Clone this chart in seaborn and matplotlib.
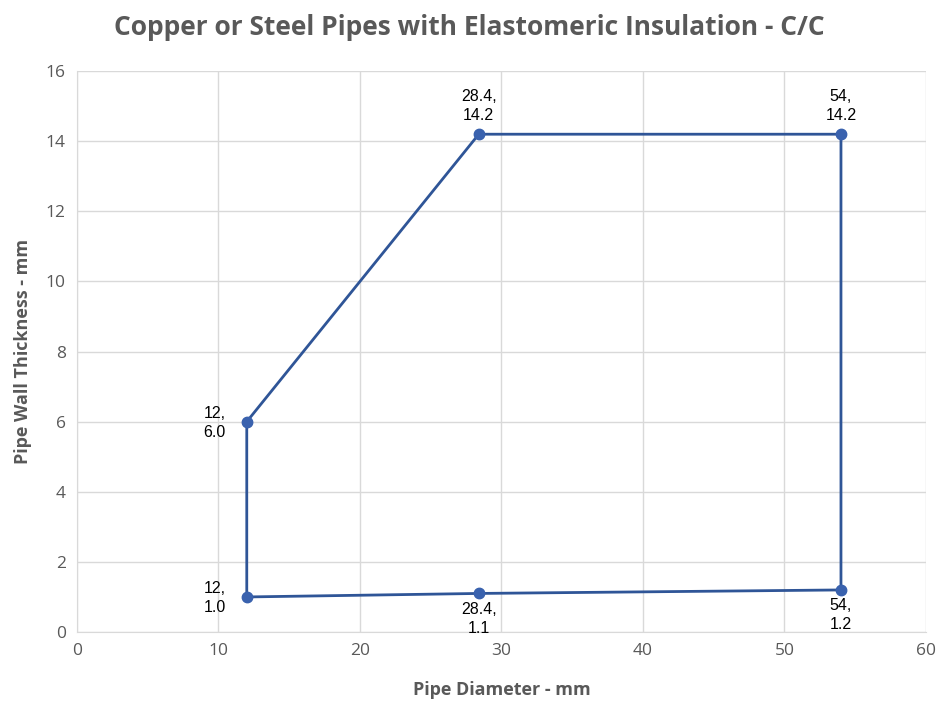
import matplotlib
matplotlib.use("Agg")
import matplotlib.pyplot as plt
import seaborn as sns
import pandas as pd

# Boundary points of the C/C region (diameter, wall thickness)
diameter = [12, 28.4, 54, 54, 28.4, 12, 12]
thickness = [6.0, 14.2, 14.2, 1.2, 1.1, 1.0, 6.0]
point_labels = ["12,\n6.0", "28.4,\n14.2", "54,\n14.2", "54,\n1.2", "28.4,\n1.1", "12,\n1.0"]
label_side = ["left", "above", "above", "below", "below", "left"]

df = pd.DataFrame({"Pipe Diameter - mm": diameter, "Pipe Wall Thickness - mm": thickness})

sns.set_style("white")
plt.rcParams["font.family"] = ["Open Sans", "DejaVu Sans"]

grey = "#595959"
line_col = "#2F5597"
lab_font = ["Liberation Sans", "DejaVu Sans"]

fig = plt.figure(figsize=(9.39, 7.02), dpi=100)
ax = fig.add_axes([0.082, 0.0997, 0.904, 0.799])

sns.lineplot(data=df, x="Pipe Diameter - mm", y="Pipe Wall Thickness - mm",
             sort=False, estimator=None, color=line_col, linewidth=2,
             marker="o", markersize=7.5, markeredgewidth=0, ax=ax)
# marker colour slightly lighter than the line
ax.plot(diameter[:-1], thickness[:-1], "o", color="#3A62AE", markersize=7.5, zorder=3)

for x, y, txt, side in zip(diameter, thickness, point_labels, label_side):
    if side == "left":
        ax.annotate(txt, (x, y), xytext=(-15, -1), textcoords="offset points",
                    ha="right", va="center", fontsize=11.5, color="black",
                    linespacing=1.35, family=lab_font)
    elif side == "above":
        ax.annotate(txt, (x, y), xytext=(0, 8), textcoords="offset points",
                    ha="center", va="bottom", fontsize=11.5, color="black",
                    linespacing=1.35, family=lab_font)
    else:
        ax.annotate(txt, (x, y), xytext=(0, -6), textcoords="offset points",
                    ha="center", va="top", fontsize=11.5, color="black",
                    linespacing=1.35, family=lab_font)

ax.set_xlim(0, 60)
ax.set_ylim(0, 16)
ax.set_xticks(range(0, 61, 10))
ax.set_yticks(range(0, 17, 2))
ax.grid(True, color="#D9D9D9", linewidth=1)
ax.set_axisbelow(True)
for s in ["top", "right"]:
    ax.spines[s].set_visible(False)
for s in ["left", "bottom"]:
    ax.spines[s].set_color("#D9D9D9")
ax.tick_params(axis="both", colors=grey, labelsize=12.5, length=0, pad=8)

ax.set_xlabel("Pipe Diameter - mm", fontsize=13, fontweight="bold", color=grey, labelpad=16)
ax.set_ylabel("Pipe Wall Thickness - mm", fontsize=13, fontweight="bold", color=grey, labelpad=10)
fig.suptitle("Copper or Steel Pipes with Elastomeric Insulation - C/C",
             x=0.5, y=0.98, fontsize=19, fontweight="bold", color=grey)

fig.savefig("out.png", dpi=100)
